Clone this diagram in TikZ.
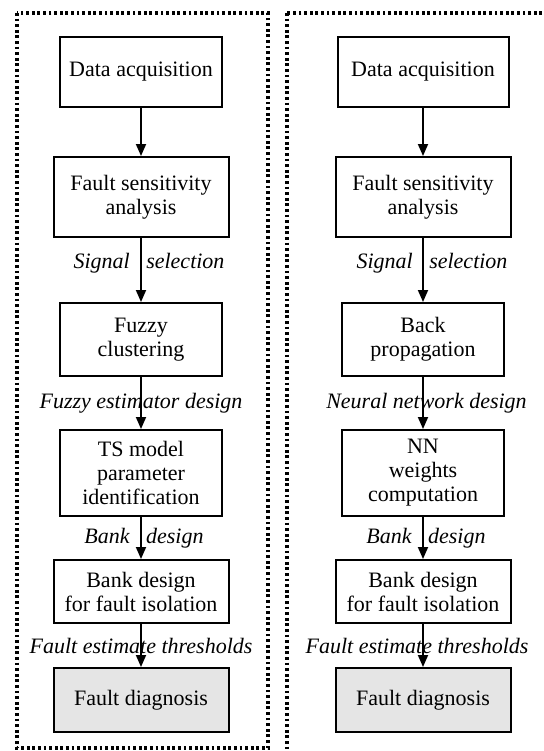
\documentclass[tikz,border=0pt]{standalone}
\usepackage{fontspec}
\setmainfont{Liberation Serif}
\usetikzlibrary{arrows.meta}

\begin{document}
\begin{tikzpicture}
\tikzstyle{block}=[rectangle, draw=black, line width=1pt, align=center, inner sep=2pt, font=\fontsize{11}{12}\selectfont, minimum width=81pt, node distance=62pt]
\tikzstyle{wide}=[block, minimum width=87.5pt]
\tikzstyle{diag}=[wide, fill=black!10]
\tikzstyle{twin}=[node distance=141pt]
\tikzstyle{connect}=[-{Triangle[length=6pt,width=5pt]}, line width=0.9pt]
\tikzstyle{lbl}=[font=\fontsize{11}{12}\selectfont\itshape, inner sep=0pt]
\tikzstyle{frame}=[line width=1.6pt, dash pattern=on 1.4pt off 1.4pt]

  \useasboundingbox (0,0) rectangle (272pt,-375.5pt);
  \clip (0,0) rectangle (272pt,-375.5pt);

  \draw[frame] (8.5pt,-6.5pt) rectangle (134pt,-374pt);
  \draw[frame] (143.5pt,-6.5pt) rectangle (290pt,-390pt);

  % fuzzy column
  \node[block, minimum height=35pt] (f1) at (70.5pt,-36pt) {Data acquisition};
  \node[wide, minimum height=40pt] (f2) [below of=f1, yshift=-0.5pt] {Fault sensitivity\\analysis};
  \node[block, minimum height=36.5pt] (f3) [below of=f2, yshift=-9.25pt] {Fuzzy\\clustering};
  \node[block, minimum height=43pt] (f4) [below of=f3, yshift=-4.75pt] {TS model\\parameter\\identification};
  \node[wide, minimum height=31.5pt] (f5) [below of=f4, yshift=2.75pt] {Bank design\\for fault isolation};
  \node[diag, minimum height=32pt] (f6) [below of=f5, yshift=7.75pt] {Fault diagnosis};

  % neural column
  \node[block, minimum width=85.5pt, minimum height=35pt] (n1) [twin, right of=f1] {Data acquisition};
  \node[wide, minimum height=40pt] (n2) [twin, right of=f2] {Fault sensitivity\\analysis};
  \node[block, minimum height=36.5pt] (n3) [twin, right of=f3] {Back\\propagation};
  \node[block, minimum height=43pt] (n4) [twin, right of=f4] {NN\\weights\\computation};
  \node[wide, minimum height=31.5pt] (n5) [twin, right of=f5] {Bank design\\for fault isolation};
  \node[diag, minimum height=32pt] (n6) [twin, right of=f6] {Fault diagnosis};

  \path (f1) edge [connect] (f2)
        (f2) edge [connect] node[lbl, pos=0.4, xshift=4pt] (fs) {Signal\enspace\ selection} (f3)
        (f3) edge [connect] node[lbl] (fe) {Fuzzy estimator design} (f4)
        (f4) edge [connect] node[lbl, xshift=1.5pt] (fb) {Bank\enspace\ design} (f5)
        (f5) edge [connect] node[lbl] (ft) {Fault estimate thresholds} (f6);

  \path (n1) edge [connect] (n2)
        (n2) edge [connect] node[lbl, pos=0.4, xshift=4.5pt] (ns) {Signal\enspace\ selection} (n3)
        (n3) edge [connect] node[lbl, xshift=1.75pt] (ne) {Neural network design} (n4)
        (n4) edge [connect] node[lbl, xshift=1.5pt] (nb) {Bank\enspace\ design} (n5)
        (n5) edge [connect] node[lbl, xshift=-3pt] (nt) {Fault estimate thresholds} (n6);

\end{tikzpicture}
\end{document}
